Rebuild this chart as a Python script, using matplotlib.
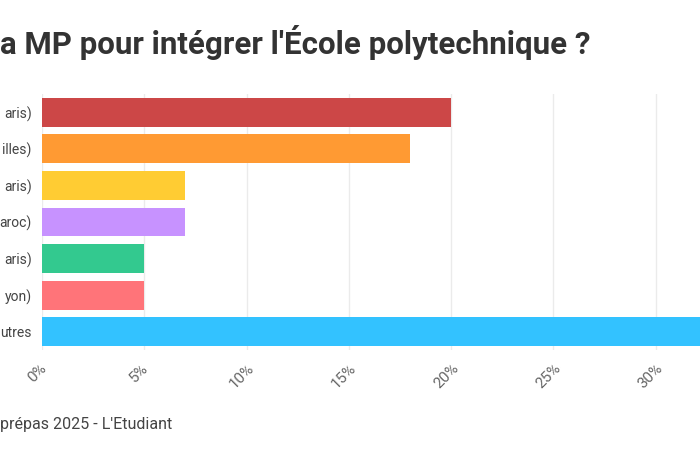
import matplotlib
matplotlib.use("Agg")
import matplotlib.pyplot as plt
from matplotlib.ticker import FuncFormatter
from matplotlib.transforms import ScaledTranslation

# data (the reference is a crop: only the visible end of each label is kept)
lycees = ["aris)", "illes)", "aris)", "aroc)", "aris)", "yon)", "utres"]
parts = [20, 18, 7, 7, 5, 5, 38]
couleurs = ["#CC4747", "#FF9A33", "#FFCC33", "#C792FF", "#33C98F", "#FF7479", "#33C2FF"]
x_ticks = [0, 5, 10, 15, 20, 25, 30]
titre = "a MP pour intégrer l'École polytechnique ?"
source = "prépas 2025 - L'Etudiant"

plt.rcParams["font.family"] = ["Roboto", "DejaVu Sans"]

W, H = 700, 450
fig = plt.figure(figsize=(7, 4.5), dpi=100)

# axes runs past the right edge, like the cropped original
px_per_pct = 20.45
x0 = 42
xmax = 40
ax = fig.add_axes([x0 / W, 1 - 350 / H, xmax * px_per_pct / W, (350 - 94) / H])

ypos = list(range(len(lycees)))
ax.barh(ypos, parts, height=0.79, color=couleurs, zorder=2)
ax.set_ylim(len(lycees) - 0.5, -0.5)
ax.set_xlim(0, xmax)

ax.set_xticks(x_ticks)
ax.xaxis.set_major_formatter(FuncFormatter(lambda v, p: f"{v:.0f}%"))
ax.set_yticks(ypos)
ax.set_yticklabels(lycees, fontsize=10, color="#444444")

ax.tick_params(axis="y", length=0, pad=7.5)
ax.tick_params(axis="x", length=0, pad=8, labelsize=11, labelcolor="#666666")
shift = ScaledTranslation(-5 / 100, 0, fig.dpi_scale_trans)
for lbl in ax.get_xticklabels():
    lbl.set_rotation(45)
    lbl.set_ha("center")
    lbl.set_va("top")
    lbl.set_transform(lbl.get_transform() + shift)

ax.grid(axis="x", color="#ebebeb", linewidth=1, zorder=0)
for s in ax.spines.values():
    s.set_visible(False)

fig.text(0, 1 - 43 / H, titre, ha="left", va="center",
         fontsize=22.5, fontweight="semibold", color="#333333")
fig.text(0, 1 - 425 / H, source, ha="left", va="center",
         fontsize=11.5, color="#444444")

fig.savefig("out.png", dpi=100, facecolor="white")
